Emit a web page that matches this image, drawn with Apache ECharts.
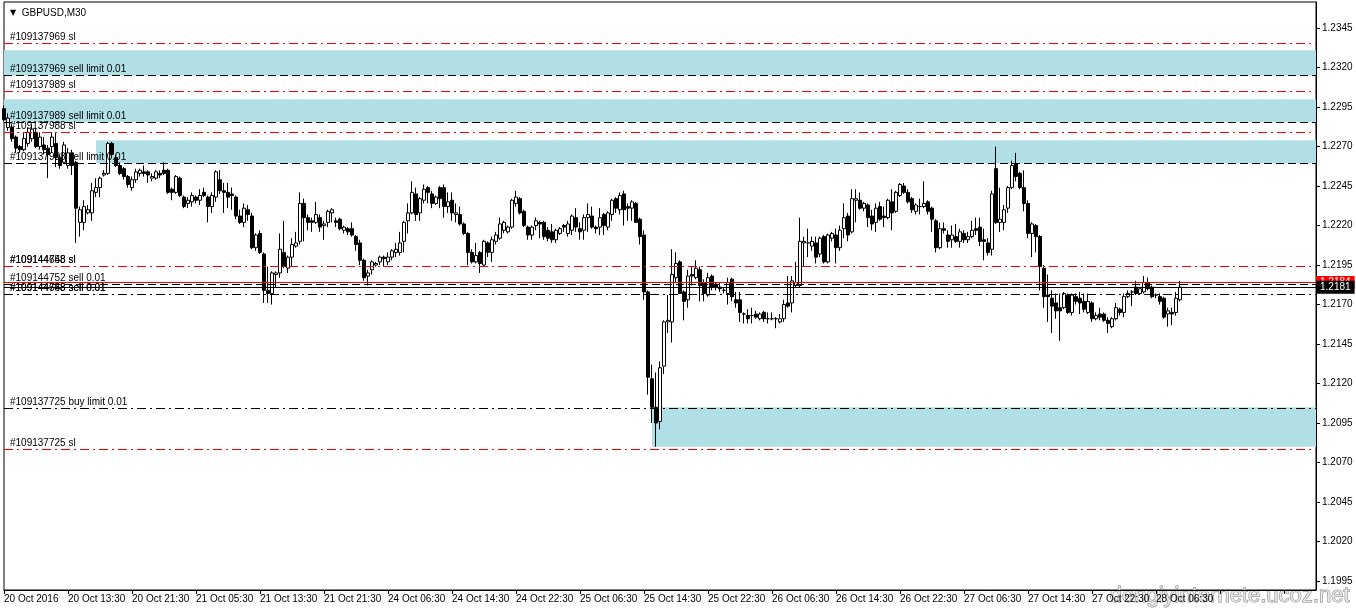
<!DOCTYPE html>
<html>
<head>
<meta charset="utf-8">
<title>GBPUSD,M30</title>
<script src="https://cdn.jsdelivr.net/npm/echarts@6/dist/echarts.min.js"></script>
<style>
  html, body { margin: 0; padding: 0; background: #fff; }
  #chart { width: 1356px; height: 612px; }
</style>
</head>
<body>
<div id="chart"></div>
<script>
const FONT = '"Liberation Sans", Arial, sans-serif'

const symbolName = 'GBPUSD,M30'
const slotCount = 329 // bar slots on the time axis, incl. the empty shift on the right

// time axis labels, one every 16 bars (8 hours of M30)
const timeLabels = [
  '20 Oct 2016', '20 Oct 13:30', '20 Oct 21:30', '21 Oct 05:30', '21 Oct 13:30',
  '21 Oct 21:30', '24 Oct 06:30', '24 Oct 14:30', '24 Oct 22:30', '25 Oct 06:30',
  '25 Oct 14:30', '25 Oct 22:30', '26 Oct 06:30', '26 Oct 14:30', '26 Oct 22:30',
  '27 Oct 06:30', '27 Oct 14:30', '27 Oct 22:30', '28 Oct 06:30'
]

const priceTicks = [
  1.1995, 1.2020, 1.2045, 1.2070, 1.2095, 1.2120, 1.2145, 1.2170,
  1.2195, 1.2220, 1.2245, 1.2270, 1.2295, 1.2320, 1.2345
]
const priceMin = 1.19893
const priceMax = 1.23615

// [open, high, low, close]
const bars = [
  [1.2294,1.2296,1.2286,1.2287],[1.2282,1.2291,1.2280,1.2288],[1.2282,1.2284,1.2273,1.2275],[1.2276,1.2277,1.2266,1.2269],
  [1.2270,1.2271,1.2266,1.2268],[1.2268,1.2279,1.2267,1.2275],[1.2272,1.2282,1.2270,1.2279],[1.2275,1.2284,1.2273,1.2281],
  [1.2279,1.2282,1.2269,1.2270],[1.2270,1.2279,1.2268,1.2276],[1.2271,1.2276,1.2265,1.2268],[1.2269,1.2271,1.2250,1.2265],
  [1.2270,1.2279,1.2266,1.2276],[1.2272,1.2279,1.2257,1.2263],[1.2263,1.2265,1.2256,1.2258],[1.2260,1.2273,1.2259,1.2271],
  [1.2258,1.2269,1.2256,1.2266],[1.2266,1.2268,1.2252,1.2258],[1.2260,1.2261,1.2209,1.2231],[1.2222,1.2232,1.2213,1.2230],
  [1.2222,1.2236,1.2217,1.2232],[1.2228,1.2233,1.2227,1.2230],[1.2228,1.2247,1.2223,1.2242],[1.2241,1.2250,1.2238,1.2244],
  [1.2244,1.2251,1.2238,1.2250],[1.2252,1.2255,1.2251,1.2253],[1.2253,1.2273,1.2252,1.2272],[1.2272,1.2273,1.2263,1.2265],
  [1.2263,1.2265,1.2257,1.2258],[1.2258,1.2260,1.2252,1.2253],[1.2256,1.2257,1.2249,1.2251],[1.2251,1.2252,1.2244,1.2246],
  [1.2244,1.2251,1.2242,1.2249],[1.2249,1.2256,1.2247,1.2254],[1.2253,1.2256,1.2251,1.2255],[1.2254,1.2258,1.2251,1.2253],
  [1.2254,1.2255,1.2247,1.2252],[1.2250,1.2253,1.2248,1.2251],[1.2250,1.2255,1.2249,1.2254],[1.2253,1.2255,1.2250,1.2252],
  [1.2255,1.2260,1.2252,1.2253],[1.2255,1.2256,1.2240,1.2241],[1.2243,1.2244,1.2236,1.2241],[1.2241,1.2252,1.2240,1.2251],
  [1.2250,1.2251,1.2238,1.2239],[1.2238,1.2239,1.2231,1.2232],[1.2234,1.2238,1.2231,1.2236],[1.2235,1.2241,1.2232,1.2239],
  [1.2238,1.2239,1.2234,1.2236],[1.2236,1.2243,1.2233,1.2239],[1.2241,1.2244,1.2238,1.2239],[1.2238,1.2239,1.2222,1.2232],
  [1.2232,1.2241,1.2228,1.2239],[1.2238,1.2255,1.2235,1.2254],[1.2249,1.2255,1.2240,1.2242],[1.2242,1.2247,1.2228,1.2241],
  [1.2241,1.2247,1.2231,1.2238],[1.2240,1.2244,1.2230,1.2239],[1.2238,1.2239,1.2224,1.2226],[1.2226,1.2230,1.2221,1.2222],
  [1.2222,1.2234,1.2219,1.2231],[1.2230,1.2233,1.2223,1.2227],[1.2226,1.2228,1.2205,1.2206],[1.2206,1.2215,1.2204,1.2214],
  [1.2215,1.2217,1.2202,1.2203],[1.2202,1.2203,1.2171,1.2179],[1.2179,1.2194,1.2171,1.2177],[1.2177,1.2191,1.2170,1.2190],
  [1.2189,1.2191,1.2181,1.2190],[1.2190,1.2215,1.2187,1.2205],[1.2203,1.2223,1.2193,1.2194],[1.2193,1.2201,1.2190,1.2200],
  [1.2200,1.2212,1.2194,1.2208],[1.2207,1.2216,1.2206,1.2209],[1.2210,1.2241,1.2208,1.2234],[1.2234,1.2237,1.2210,1.2225],
  [1.2225,1.2227,1.2217,1.2222],[1.2223,1.2225,1.2216,1.2222],[1.2222,1.2235,1.2221,1.2227],[1.2225,1.2227,1.2216,1.2219],
  [1.2220,1.2223,1.2211,1.2221],[1.2222,1.2230,1.2219,1.2229],[1.2228,1.2231,1.2222,1.2230],[1.2223,1.2225,1.2219,1.2222],
  [1.2224,1.2225,1.2217,1.2218],[1.2217,1.2220,1.2215,1.2219],[1.2218,1.2219,1.2214,1.2216],[1.2218,1.2222,1.2213,1.2214],
  [1.2213,1.2214,1.2204,1.2208],[1.2209,1.2211,1.2195,1.2198],[1.2198,1.2199,1.2185,1.2187],[1.2188,1.2192,1.2182,1.2190],
  [1.2192,1.2198,1.2189,1.2197],[1.2195,1.2197,1.2194,1.2196],[1.2197,1.2201,1.2195,1.2200],[1.2200,1.2201,1.2194,1.2199],
  [1.2197,1.2203,1.2195,1.2200],[1.2200,1.2205,1.2198,1.2204],[1.2203,1.2209,1.2200,1.2205],[1.2203,1.2216,1.2201,1.2209],
  [1.2210,1.2223,1.2203,1.2222],[1.2223,1.2234,1.2215,1.2228],[1.2228,1.2248,1.2227,1.2241],[1.2240,1.2244,1.2223,1.2227],
  [1.2228,1.2238,1.2223,1.2237],[1.2236,1.2246,1.2234,1.2243],[1.2244,1.2245,1.2234,1.2241],[1.2240,1.2242,1.2231,1.2234],
  [1.2234,1.2239,1.2233,1.2238],[1.2244,1.2245,1.2231,1.2237],[1.2244,1.2246,1.2225,1.2232],[1.2232,1.2241,1.2228,1.2235],
  [1.2236,1.2241,1.2223,1.2228],[1.2227,1.2234,1.2222,1.2228],[1.2227,1.2232,1.2220,1.2221],[1.2221,1.2222,1.2214,1.2215],
  [1.2215,1.2216,1.2195,1.2203],[1.2203,1.2205,1.2196,1.2197],[1.2197,1.2209,1.2196,1.2201],[1.2203,1.2204,1.2190,1.2196],
  [1.2195,1.2211,1.2194,1.2210],[1.2209,1.2210,1.2200,1.2203],[1.2203,1.2213,1.2197,1.2211],[1.2210,1.2216,1.2208,1.2214],
  [1.2212,1.2225,1.2211,1.2221],[1.2217,1.2223,1.2215,1.2222],[1.2216,1.2220,1.2215,1.2219],[1.2219,1.2237,1.2218,1.2236],
  [1.2234,1.2242,1.2232,1.2238],[1.2237,1.2238,1.2227,1.2228],[1.2229,1.2230,1.2219,1.2220],[1.2219,1.2220,1.2211,1.2214],
  [1.2214,1.2220,1.2211,1.2219],[1.2220,1.2225,1.2217,1.2223],[1.2222,1.2223,1.2212,1.2221],[1.2222,1.2223,1.2211,1.2213],
  [1.2217,1.2219,1.2210,1.2212],[1.2216,1.2221,1.2209,1.2211],[1.2211,1.2218,1.2209,1.2217],[1.2215,1.2219,1.2214,1.2218],
  [1.2220,1.2221,1.2216,1.2219],[1.2215,1.2223,1.2213,1.2221],[1.2217,1.2227,1.2214,1.2226],[1.2225,1.2231,1.2216,1.2219],
  [1.2218,1.2222,1.2211,1.2216],[1.2217,1.2227,1.2211,1.2225],[1.2225,1.2234,1.2216,1.2227],[1.2226,1.2232,1.2218,1.2219],
  [1.2219,1.2220,1.2215,1.2218],[1.2219,1.2231,1.2214,1.2225],[1.2227,1.2228,1.2214,1.2220],[1.2219,1.2229,1.2217,1.2228],
  [1.2227,1.2237,1.2223,1.2236],[1.2237,1.2238,1.2228,1.2231],[1.2230,1.2241,1.2227,1.2239],[1.2240,1.2242,1.2220,1.2230],
  [1.2232,1.2234,1.2223,1.2231],[1.2231,1.2236,1.2223,1.2235],[1.2234,1.2235,1.2222,1.2222],[1.2224,1.2225,1.2208,1.2213],
  [1.2214,1.2217,1.2173,1.2178],[1.2178,1.2179,1.2113,1.2124],[1.2123,1.2132,1.2095,1.2105],[1.2105,1.2127,1.2080,1.2095],
  [1.2096,1.2134,1.2091,1.2130],[1.2131,1.2160,1.2126,1.2159],[1.2159,1.2176,1.2152,1.2160],[1.2159,1.2205,1.2146,1.2189],
  [1.2187,1.2203,1.2184,1.2196],[1.2197,1.2198,1.2177,1.2177],[1.2178,1.2179,1.2160,1.2172],[1.2173,1.2192,1.2168,1.2188],
  [1.2189,1.2194,1.2182,1.2188],[1.2187,1.2198,1.2186,1.2193],[1.2192,1.2194,1.2172,1.2182],[1.2184,1.2186,1.2172,1.2177],
  [1.2176,1.2190,1.2175,1.2187],[1.2188,1.2189,1.2179,1.2181],[1.2183,1.2184,1.2179,1.2181],[1.2181,1.2184,1.2178,1.2180],
  [1.2179,1.2181,1.2177,1.2179],[1.2177,1.2187,1.2170,1.2184],[1.2186,1.2187,1.2172,1.2175],[1.2173,1.2178,1.2168,1.2171],
  [1.2173,1.2178,1.2159,1.2165],[1.2164,1.2165,1.2158,1.2164],[1.2163,1.2167,1.2158,1.2161],[1.2163,1.2168,1.2158,1.2163],
  [1.2164,1.2166,1.2161,1.2162],[1.2161,1.2165,1.2160,1.2164],[1.2165,1.2166,1.2159,1.2161],[1.2161,1.2165,1.2158,1.2161],
  [1.2161,1.2165,1.2160,1.2161],[1.2161,1.2162,1.2155,1.2161],[1.2159,1.2164,1.2158,1.2161],[1.2161,1.2173,1.2159,1.2170],
  [1.2171,1.2188,1.2168,1.2169],[1.2171,1.2188,1.2165,1.2185],[1.2182,1.2197,1.2181,1.2184],[1.2182,1.2225,1.2181,1.2210],
  [1.2209,1.2213,1.2194,1.2210],[1.2209,1.2218,1.2200,1.2209],[1.2207,1.2213,1.2204,1.2210],[1.2209,1.2213,1.2196,1.2200],
  [1.2202,1.2213,1.2200,1.2212],[1.2213,1.2214,1.2196,1.2197],[1.2197,1.2215,1.2196,1.2214],[1.2212,1.2216,1.2210,1.2215],
  [1.2214,1.2218,1.2196,1.2206],[1.2206,1.2220,1.2204,1.2217],[1.2218,1.2234,1.2212,1.2225],[1.2226,1.2228,1.2210,1.2214],
  [1.2216,1.2243,1.2215,1.2237],[1.2236,1.2243,1.2222,1.2237],[1.2236,1.2241,1.2230,1.2231],[1.2231,1.2235,1.2229,1.2234],
  [1.2233,1.2234,1.2219,1.2225],[1.2226,1.2230,1.2217,1.2221],[1.2222,1.2234,1.2216,1.2231],[1.2232,1.2235,1.2223,1.2224],
  [1.2226,1.2232,1.2219,1.2225],[1.2225,1.2237,1.2224,1.2236],[1.2235,1.2243,1.2217,1.2228],[1.2229,1.2242,1.2228,1.2241],
  [1.2239,1.2247,1.2238,1.2246],[1.2245,1.2247,1.2240,1.2241],[1.2241,1.2243,1.2234,1.2235],[1.2237,1.2238,1.2228,1.2230],
  [1.2229,1.2234,1.2227,1.2233],[1.2232,1.2237,1.2227,1.2232],[1.2232,1.2248,1.2231,1.2234],[1.2235,1.2236,1.2227,1.2229],
  [1.2231,1.2232,1.2216,1.2224],[1.2223,1.2224,1.2203,1.2206],[1.2206,1.2222,1.2205,1.2218],[1.2218,1.2222,1.2215,1.2217],
  [1.2214,1.2217,1.2206,1.2210],[1.2211,1.2220,1.2206,1.2214],[1.2213,1.2221,1.2209,1.2210],[1.2210,1.2218,1.2206,1.2216],
  [1.2215,1.2217,1.2209,1.2211],[1.2211,1.2216,1.2209,1.2213],[1.2213,1.2223,1.2212,1.2217],[1.2218,1.2225,1.2214,1.2217],
  [1.2219,1.2225,1.2207,1.2210],[1.2211,1.2218,1.2198,1.2210],[1.2209,1.2212,1.2201,1.2203],[1.2205,1.2242,1.2201,1.2240],
  [1.2256,1.2270,1.2221,1.2222],[1.2222,1.2244,1.2216,1.2224],[1.2222,1.2233,1.2217,1.2230],[1.2231,1.2245,1.2228,1.2244],
  [1.2244,1.2261,1.2243,1.2258],[1.2259,1.2266,1.2248,1.2251],[1.2253,1.2254,1.2243,1.2244],[1.2244,1.2255,1.2229,1.2234],
  [1.2234,1.2236,1.2212,1.2215],[1.2215,1.2222,1.2200,1.2221],[1.2220,1.2221,1.2203,1.2213],[1.2213,1.2214,1.2179,1.2194],
  [1.2193,1.2195,1.2168,1.2175],[1.2176,1.2189,1.2159,1.2175],[1.2174,1.2179,1.2152,1.2169],[1.2171,1.2177,1.2161,1.2166],
  [1.2168,1.2177,1.2147,1.2166],[1.2168,1.2178,1.2167,1.2177],[1.2176,1.2177,1.2164,1.2165],[1.2165,1.2177,1.2163,1.2176],
  [1.2175,1.2177,1.2170,1.2172],[1.2174,1.2178,1.2164,1.2171],[1.2172,1.2177,1.2165,1.2167],[1.2165,1.2177,1.2164,1.2172],
  [1.2171,1.2172,1.2159,1.2161],[1.2161,1.2165,1.2160,1.2163],[1.2164,1.2168,1.2160,1.2162],[1.2164,1.2165,1.2159,1.2160],
  [1.2160,1.2162,1.2152,1.2158],[1.2156,1.2162,1.2155,1.2161],[1.2161,1.2171,1.2160,1.2168],[1.2167,1.2168,1.2163,1.2165],
  [1.2165,1.2177,1.2162,1.2175],[1.2175,1.2179,1.2174,1.2177],[1.2178,1.2179,1.2169,1.2178],[1.2181,1.2185,1.2176,1.2177],
  [1.2177,1.2181,1.2176,1.2180],[1.2178,1.2188,1.2177,1.2184],[1.2184,1.2187,1.2179,1.2180],[1.2181,1.2182,1.2174,1.2175],
  [1.2176,1.2177,1.2174,1.2176],[1.2175,1.2177,1.2170,1.2172],[1.2174,1.2175,1.2161,1.2162],[1.2164,1.2168,1.2156,1.2166],
  [1.2165,1.2168,1.2157,1.2164],[1.2165,1.2178,1.2163,1.2174],[1.2173,1.2185,1.2172,1.2181]
]

const bidPrice = 1.2181
const askPrice = 1.2184

// pending / open orders drawn as horizontal levels
const orderLevels = [
  { price: 1.23355, text: '#109137969 sl', color: '#ff0000', style: 'dashdot' },
  { price: 1.2315, text: '#109137969 sell limit 0.01', color: '#000', style: 'dash' },
  { price: 1.2305, text: '#109137989 sl', color: '#ff0000', style: 'dashdot' },
  { price: 1.22855, text: '#109137989 sell limit 0.01', color: '#000', style: 'dash' },
  { price: 1.2279, text: '#109137988 sl', color: '#ff0000', style: 'dashdot' },
  { price: 1.22595, text: '#109137988 sell limit 0.01', color: '#000', style: 'dash' },
  { price: 1.2194, text: '#109144758 sl', color: '#ff0000', style: 'dashdot' },
  { price: 1.2194, text: '#109144648 sl', color: '#ff0000', style: 'dashdot' },
  { price: 1.2183, text: '#109144752 sell 0.01', color: '#000', style: 'dash' },
  { price: 1.21768, text: '#109144758 sell 0.01', color: '#000', style: 'dashdot' },
  { price: 1.21768, text: '#109144648 sell 0.01', color: '#000', style: 'dashdot' },
  { price: 1.21045, text: '#109137725 buy limit 0.01', color: '#000', style: 'dashdot' },
  { price: 1.20785, text: '#109137725 sl', color: '#ff0000', style: 'dashdot' }
]

// shaded zones: first bar index, upper and lower price
const zoneStart = [0, 0, 23, 162]
const zoneTop = [1.2331, 1.2300, 1.2274, 1.2105]
const zoneBottom = [1.2315, 1.22855, 1.22595, 1.2080]

const dashStyles = {
  dash: [8, 4],
  dashdot: [9, 4, 2, 4]
}

const chartEl = document.getElementById('chart')
const chart = echarts.init(chartEl, null, { renderer: 'canvas' })

const categories = Array.from({ length: slotCount }, (_, i) => String(i))
const candleData = bars.map(b => [b[0], b[3], b[2], b[1]])

const levelLines = orderLevels.map(l => ({
  yAxis: l.price,
  lineStyle: { color: l.color, width: 1, type: dashStyles[l.style] },
  label: {
    show: true,
    formatter: l.text,
    position: 'insideStartTop',
    distance: [6, 1],
    color: '#000',
    fontSize: 10,
    fontFamily: FONT
  }
}))

const priceTag = (price, bg) => ({
  yAxis: price,
  lineStyle: { color: bg, width: 1, type: 'solid' },
  label: {
    show: true,
    position: 'end',
    distance: 0,
    formatter: price.toFixed(4),
    color: '#fff',
    backgroundColor: bg,
    padding: [2, 4, 1, 4],
    fontSize: 10,
    fontFamily: FONT
  }
})

const zones = zoneStart.map((start, i) => [
  { xAxis: start, yAxis: zoneTop[i] },
  { xAxis: slotCount - 1, yAxis: zoneBottom[i] }
])

const option = {
  animation: false,
  backgroundColor: '#fff',
  title: {
    text: '{t|▼}  ' + symbolName,
    left: 5,
    top: 3,
    textStyle: {
      fontSize: 10,
      fontWeight: 'normal',
      color: '#000',
      fontFamily: FONT,
      rich: { t: { fontFamily: '"DejaVu Sans"', fontSize: 8, color: '#000' } }
    }
  },
  grid: {
    left: 4,
    right: 40,
    top: 2,
    bottom: 22,
    show: true,
    borderColor: '#000',
    borderWidth: 1,
    backgroundColor: 'transparent'
  },
  xAxis: {
    type: 'category',
    data: categories,
    boundaryGap: false,
    axisLine: { show: true, lineStyle: { color: '#000', width: 1 } },
    axisTick: { show: true, interval: 15, length: 4, lineStyle: { color: '#000' } },
    axisLabel: {
      interval: 15,
      align: 'left',
      margin: 4,
      color: '#000',
      fontSize: 10,
      fontFamily: FONT,
      formatter: (value, index) => timeLabels[index / 16] || ''
    },
    splitLine: { show: false }
  },
  yAxis: {
    type: 'value',
    position: 'right',
    min: priceMin,
    max: priceMax,
    axisLine: { show: true, lineStyle: { color: '#000', width: 1 } },
    axisTick: { show: true, length: 4, customValues: priceTicks, lineStyle: { color: '#000' } },
    axisLabel: {
      customValues: priceTicks,
      margin: 6,
      color: '#000',
      fontSize: 10,
      fontFamily: FONT,
      formatter: v => v.toFixed(4)
    },
    splitLine: { show: false }
  },
  series: [
    {
      name: symbolName,
      type: 'candlestick',
      data: candleData,
      barWidth: 3,
      clip: false,
      z: 2,
      itemStyle: {
        color: '#fff',
        color0: '#000',
        borderColor: '#000',
        borderColor0: '#000',
        borderColorDoji: '#000',
        borderWidth: 1
      },
      markArea: {
        silent: true,
        itemStyle: { color: '#b0e0e6', borderWidth: 0 },
        label: { show: false },
        data: zones
      },
      markLine: {
        silent: true,
        symbol: 'none',
        precision: 5,
        data: [...levelLines, priceTag(askPrice, '#ff0000'), priceTag(bidPrice, '#000')]
      }
    }
  ],
  graphic: [
    {
      type: 'text',
      right: 6,
      bottom: 5,
      silent: true,
      style: {
        text: 'dengiyinternete.ucoz.net',
        font: '22px "Liberation Sans", sans-serif',
        fill: 'rgba(235,235,235,0.85)',
        stroke: '#808080',
        lineWidth: 1
      }
    }
  ]
}

chart.setOption(option)

window.addEventListener('resize', () => chart.resize())
</script>
</body>
</html>
